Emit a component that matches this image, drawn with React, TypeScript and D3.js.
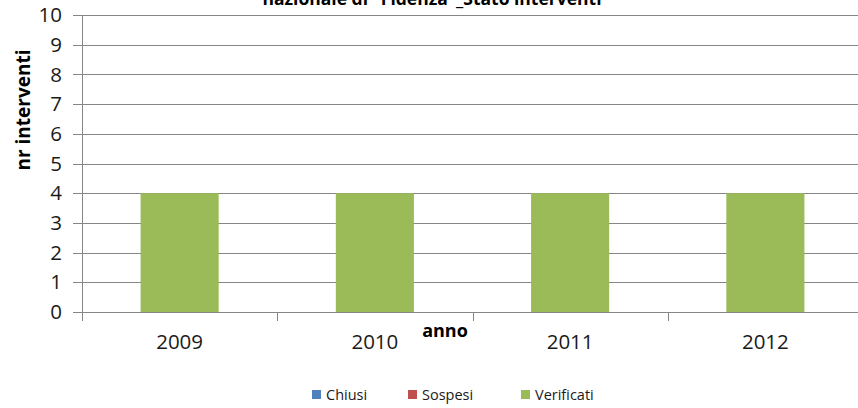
import React from "react";
import * as d3 from "d3";

const years = ["2009", "2010", "2011", "2012"];
const chiusi = [0, 0, 0, 0];
const sospesi = [0, 0, 0, 0];
const verificati = [4, 4, 4, 4];
const seriesNames = ["Chiusi", "Sospesi", "Verificati"];
const seriesColors = ["#4F81BD", "#C0504D", "#9BBB59"];
const yTicks = [0, 1, 2, 3, 4, 5, 6, 7, 8, 9, 10];
const title = 'nazionale di "Fidenza"_Stato interventi';
const yTitle = "nr interventi";
const xTitle = "anno";

const W = 858;
const H = 408;
const plotL = 82;
const plotR = 863;
const plotT = 15;
const plotB = 312;

export default function App() {
  const rows = years.map((y, i) => ({
    year: y,
    Chiusi: chiusi[i],
    Sospesi: sospesi[i],
    Verificati: verificati[i],
  }));
  const stacked = d3.stack<any>().keys(seriesNames)(rows);

  const x = d3
    .scaleBand<string>()
    .domain(years)
    .range([plotL, plotR])
    .paddingInner(0.6)
    .paddingOuter(0.3);
  const step = x.step();
  const y = d3.scaleLinear().domain([0, 10]).range([plotB, plotT]);

  const font = "'Open Sans', sans-serif";
  const legendX = [312, 408, 521];

  return (
    <svg
      width={W}
      height={H}
      style={{ position: "absolute", left: 0, top: 0, background: "#fff" }}
      fontFamily={font}
    >
      <rect x={0} y={0} width={W} height={H} fill="#fff" />
      {/* title (cut at top, as in the reference) */}
      <text
        x={432}
        y={5}
        textAnchor="middle"
        fontWeight="bold"
        fontSize={17.5}
        fill="#000"
      >
        {title}
      </text>
      {/* gridlines */}
      {yTicks.map((t) => (
        <line
          key={"g" + t}
          x1={plotL - 9}
          x2={plotR}
          y1={Math.round(y(t)) + 0.5}
          y2={Math.round(y(t)) + 0.5}
          stroke="#868686"
          strokeWidth={1}
        />
      ))}
      {/* y axis line */}
      <line
        x1={plotL + 0.5}
        x2={plotL + 0.5}
        y1={plotT}
        y2={plotB + 1}
        stroke="#868686"
      />
      {/* bars */}
      {stacked.map((s, si) => (
        <g key={s.key} fill={seriesColors[si]}>
          {s.map((d: any, i: number) => {
            const h = y(d[0]) - y(d[1]);
            if (h <= 0) return null;
            return (
              <rect
                key={i}
                x={x(years[i])}
                y={y(d[1])}
                width={x.bandwidth()}
                height={h}
              />
            );
          })}
        </g>
      ))}
      {/* x axis */}
      <line
        x1={plotL}
        x2={plotR}
        y1={Math.round(y(0)) + 0.5}
        y2={Math.round(y(0)) + 0.5}
        stroke="#868686"
      />
      {years.map((yr) => {
        const bx = Math.round(x(yr)! - step * 0.3) + 0.5;
        return (
          <line
            key={"t" + yr}
            x1={bx}
            x2={bx}
            y1={plotB}
            y2={plotB + 9}
            stroke="#868686"
          />
        );
      })}
      {/* y tick labels */}
      {yTicks.map((t) => (
        <text
          key={"yl" + t}
          x={62}
          y={y(t)}
          dy="0.35em"
          textAnchor="end"
          fontSize={20.5}
          fill="#1a1a1a"
        >
          {t}
        </text>
      ))}
      {/* x tick labels */}
      {years.map((yr) => (
        <text
          key={"xl" + yr}
          x={x(yr)! + x.bandwidth() / 2}
          y={349}
          textAnchor="middle"
          fontSize={20.5}
          fill="#1a1a1a"
        >
          {yr}
        </text>
      ))}
      {/* axis titles */}
      <text
        x={445}
        y={337}
        textAnchor="middle"
        fontWeight="bold"
        fontSize={18}
        fill="#000"
      >
        {xTitle}
      </text>
      <text
        transform={`translate(30,110) rotate(-90)`}
        textAnchor="middle"
        fontWeight="bold"
        fontSize={19}
        fill="#000"
      >
        {yTitle}
      </text>
      {/* legend */}
      {seriesNames.map((n, i) => (
        <g key={n}>
          <rect
            x={legendX[i]}
            y={390}
            width={9}
            height={9}
            fill={seriesColors[i]}
          />
          <text x={legendX[i] + 14} y={399.5} fontSize={14.5} fill="#1a1a1a">
            {n}
          </text>
        </g>
      ))}
    </svg>
  );
}
